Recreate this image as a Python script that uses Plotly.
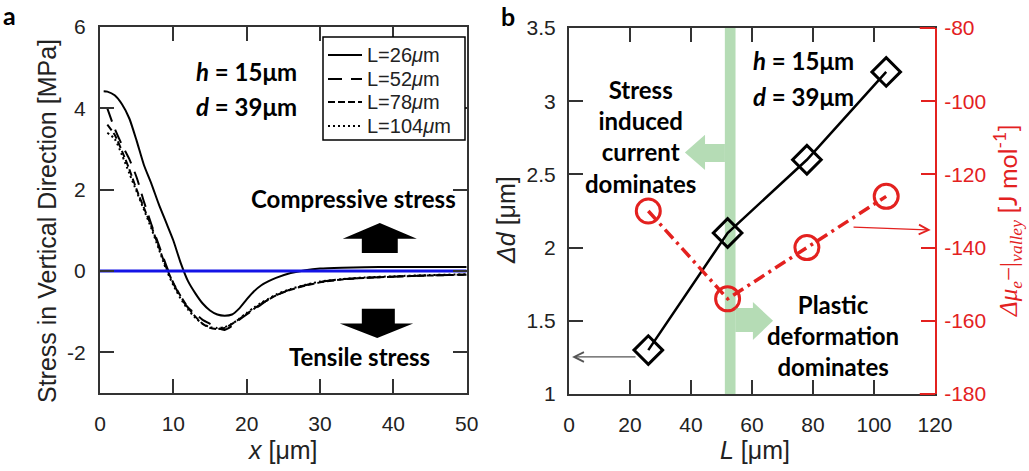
import plotly.graph_objects as go

W, H = 1029, 471

# ---- panel a: stress profiles along x for four pitches L ----
x_pos = [0.5, 1, 2, 3, 4, 5, 6, 7, 8, 9, 10, 11, 12, 13, 14, 15, 16, 17, 18, 19, 20,
         21, 22, 23, 24, 26, 28, 30, 33, 36, 40, 45, 50]
stress_L26 = [4.42, 4.41, 4.32, 4.1, 3.75, 3.2, 2.6, 2.15, 1.65, 1.2, 0.75, 0.2, -0.25,
              -0.55, -0.8, -0.97, -1.07, -1.1, -1.07, -0.92, -0.7, -0.5, -0.35, -0.25,
              -0.17, -0.05, 0.02, 0.06, 0.08, 0.09, 0.1, 0.1, 0.1]
stress_L52 = [None, 4.0, 3.5, 3.1, 2.75, 2.3, 1.7, 1.15, 0.65, 0.15, -0.3, -0.65, -0.9,
              -1.05, -1.2, -1.3, -1.4, -1.45, -1.35, -1.2, -1.07, -0.95, -0.82, -0.7,
              -0.6, -0.45, -0.35, -0.27, -0.2, -0.17, -0.14, -0.11, -0.09]
stress_L78 = [None, 3.6, 3.35, 2.95, 2.5, 2.0, 1.55, 1.1, 0.6, 0.1, -0.3, -0.62, -0.9,
              -1.12, -1.3, -1.4, -1.43, -1.4, -1.3, -1.18, -1.05, -0.93, -0.8, -0.7,
              -0.6, -0.46, -0.36, -0.28, -0.21, -0.17, -0.14, -0.11, -0.09]
stress_L104 = [None, 3.4, 3.25, 2.85, 2.4, 1.95, 1.5, 1.05, 0.55, 0.05, -0.35, -0.68,
               -0.95, -1.15, -1.3, -1.38, -1.4, -1.38, -1.3, -1.17, -1.03, -0.9, -0.78,
               -0.68, -0.58, -0.44, -0.34, -0.26, -0.2, -0.16, -0.13, -0.1, -0.08]
series_names = ["L=26<i>μ</i>m", "L=52<i>μ</i>m", "L=78<i>μ</i>m", "L=104<i>μ</i>m"]
zero_x = [0, 50]
zero_y = [0, 0]
stress_ticks = [-2, 0, 2, 4, 6]
stress_tick_text = ["-2", "0", "2", "4", "6"]

# ---- panel b: valley shift and chemical potential against L ----
L_vals = [26, 52, 78, 104]
delta_d = [1.3, 2.1, 2.6, 3.2]
delta_mu = [-130, -154, -140, -126]
mu_ticks = [-180, -160, -140, -120, -100, -80]
mu_tick_text = ["-180", "-160", "-140", "-120", "-100", "-80"]

RED = "#e3211f"
AXC = "#333333"
GREEN = "rgba(120,192,120,0.55)"
SANS = "Liberation Sans"
BOLD = "Lato"

fig = go.Figure()

dashes = ["solid", "14px,9px", "7px,3px", "2px,3px"]
for name, ys, dsh in zip(series_names, [stress_L26, stress_L52, stress_L78, stress_L104], dashes):
    fig.add_trace(go.Scatter(
        x=x_pos, y=ys, name=name, mode="lines", connectgaps=False, showlegend=False,
        line=dict(color="black", width=2, shape="spline", smoothing=0.6, dash=dsh),
        xaxis="x", yaxis="y"))

fig.add_trace(go.Scatter(x=zero_x, y=zero_y, mode="lines", showlegend=False,
                         line=dict(color="#1414e6", width=3), xaxis="x", yaxis="y"))

fig.add_trace(go.Scatter(
    x=L_vals, y=delta_d, mode="lines+markers", showlegend=False,
    line=dict(color="black", width=2.5),
    marker=dict(symbol="diamond-open", size=22, color="black", line=dict(width=3)),
    xaxis="x2", yaxis="y2"))
fig.add_trace(go.Scatter(
    x=L_vals, y=delta_mu, mode="lines+markers", showlegend=False,
    line=dict(color=RED, width=3.5, dash="12px,5px,3px,5px"),
    marker=dict(symbol="circle-open", size=24, color=RED, line=dict(width=3)),
    xaxis="x2", yaxis="y3"))

axis_common = dict(showline=True, linecolor=AXC, linewidth=2, ticks="inside",
                   ticklen=14, tickwidth=2, tickcolor=AXC, showgrid=False,
                   zeroline=False, automargin=False,
                   tickfont=dict(family=SANS, size=21, color="#222"))


def px(v):
    return v / W


def py(v):
    return 1 - v / H


shapes = []
# compressive / tensile arrows in panel a
shapes.append(dict(type="path", xref="x", yref="y", fillcolor="black", line=dict(width=0),
                   path="M 35.7 0.44 L 40.6 0.44 L 40.6 0.79 L 43.2 0.79 L 38.15 1.18 "
                        "L 33.1 0.79 L 35.7 0.79 Z"))
shapes.append(dict(type="path", xref="x", yref="y", fillcolor="black", line=dict(width=0),
                   path="M 35.7 -0.93 L 40.2 -0.93 L 40.2 -1.29 L 42.7 -1.29 L 37.8 -1.65 "
                        "L 32.7 -1.29 L 35.7 -1.29 Z"))
# transition band and regime arrows in panel b
shapes.append(dict(type="rect", xref="x2", yref="y2 domain", x0=51.1, x1=54.6, y0=0, y1=1,
                   fillcolor=GREEN, line=dict(width=0), layer="below"))
shapes.append(dict(type="path", xref="x2", yref="y2", fillcolor=GREEN, line=dict(width=0),
                   path="M 51.1 2.585 L 44.6 2.585 L 44.6 2.53 L 38.0 2.65 L 44.6 2.77 "
                        "L 44.6 2.708 L 51.1 2.708 Z"))
shapes.append(dict(type="path", xref="x2", yref="y2", fillcolor=GREEN, line=dict(width=0),
                   path="M 54.6 1.423 L 60.3 1.423 L 60.3 1.369 L 66.9 1.50 L 60.3 1.628 "
                        "L 60.3 1.587 L 54.6 1.587 Z"))
# red ends of the frame next to the right axis
for yv in (0, 1):
    shapes.append(dict(type="line", xref="x2", yref="y2 domain", x0=115, x1=120, y0=yv, y1=yv,
                       line=dict(color=RED, width=2)))

# legend box of panel a
legend_rows = [55, 79, 102, 126]
shapes.append(dict(type="rect", xref="paper", yref="paper", x0=px(323), x1=px(465),
                   y0=py(140), y1=py(37), line=dict(color="black", width=1.5),
                   fillcolor="white"))
for row, dsh in zip(legend_rows, dashes):
    shapes.append(dict(type="line", xref="paper", yref="paper", x0=px(328), x1=px(362),
                       y0=py(row), y1=py(row), line=dict(color="black", width=2, dash=dsh)))


def note(text, x, y, size=24, color="black", family=BOLD, angle=0, bold=True,
         xanchor="center"):
    t = f"<b>{text}</b>" if bold else text
    return dict(text=t, x=px(x), y=py(y), xref="paper", yref="paper", showarrow=False,
                xanchor=xanchor, yanchor="middle", textangle=angle,
                font=dict(family=family, size=size, color=color))


ann = [
    note("a", 9, 15, size=25),
    note("b", 508, 16, size=25),
    note("<i>h</i> = 15μm", 246, 72),
    note("<i>d</i> = 39μm", 246, 107),
    note("Compressive stress", 353, 198),
    note("Tensile stress", 359, 356),
    note("<i>h</i> = 15μm", 803, 61),
    note("<i>d</i> = 39μm", 803, 97),
    note("Stress<br>induced<br>current<br>dominates", 640, 137),
    note("Plastic<br>deformation<br>dominates", 833, 335),
    note("Stress in Vertical Direction [MPa]", 47, 221, size=25, family=SANS,
         angle=-90, bold=False, color="#222"),
    note("<i>x</i> [μm]", 283, 450, size=25, family=SANS, bold=False, color="#222"),
    note("<i>Δd</i> [μm]", 506, 220, size=25, family=SANS, angle=-90, bold=False,
         color="#222"),
    note("<i>L</i> [μm]", 755, 450, size=25, family=SANS, bold=False, color="#222"),
    note("<i>Δμ<sub>e</sub></i>−|<sub><i>valley</i></sub>"
         "<span style='font-family:Lato'> [J mol<sup>-1</sup>]</span>",
         1007, 220, size=25, family="Liberation Serif", angle=-90, bold=False, color=RED),
]
for row, name in zip(legend_rows, series_names):
    ann.append(note(name, 365, row, size=20, family=SANS, bold=False, color="#222",
                    xanchor="left"))

# pointer arrows linking each series to its axis
ann.append(dict(x=1.0, y=1.253, ax=22.3, ay=1.253, xref="x2", yref="y2", axref="x2",
                ayref="y2", text="", showarrow=True, arrowhead=5, arrowsize=1.6,
                arrowwidth=1.2, arrowcolor="#555"))
ann.append(dict(x=118.6, y=-135.2, ax=92.8, ay=-134.4, xref="x2", yref="y3", axref="x2",
                ayref="y3", text="", showarrow=True, arrowhead=5, arrowsize=1.6,
                arrowwidth=1.2, arrowcolor=RED))

fig.update_layout(
    width=W, height=H, margin=dict(l=0, r=0, t=0, b=0, autoexpand=False),
    paper_bgcolor="white", plot_bgcolor="white", showlegend=False,
    xaxis=dict(domain=[100 / W, 466.7 / W], range=[0, 50], tickvals=[0, 10, 20, 30, 40, 50],
               anchor="y", mirror="ticks", ticklabelstandoff=11, **axis_common),
    yaxis=dict(domain=[1 - 393 / H, 1 - 27 / H], range=[-3, 6], tickvals=stress_ticks,
               ticktext=stress_tick_text, anchor="x", mirror="ticks", ticklabelstandoff=8,
               **axis_common),
    xaxis2=dict(domain=[569 / W, 935 / W], range=[0, 120],
                tickvals=[0, 20, 40, 60, 80, 100, 120], anchor="y2", mirror="ticks",
                ticklabelstandoff=11, **axis_common),
    yaxis2=dict(domain=[1 - 394 / H, 1 - 28 / H], range=[1, 3.5],
                tickvals=[1, 1.5, 2, 2.5, 3, 3.5], ticktext=["1", "1.5", "2", "2.5", "3", "3.5"],
                anchor="x2", ticklabelstandoff=7, **axis_common),
    yaxis3=dict(overlaying="y2", side="right", anchor="x2", range=[-180, -80],
                tickvals=mu_ticks, ticktext=mu_tick_text, automargin=False,
                showline=True, linecolor=RED, linewidth=2, ticks="inside", ticklen=14,
                tickwidth=2, tickcolor=RED, showgrid=False, zeroline=False,
                tickfont=dict(family=SANS, size=21, color=RED), ticklabelstandoff=3),
    shapes=shapes, annotations=ann,
)

fig.write_html("out.html")
